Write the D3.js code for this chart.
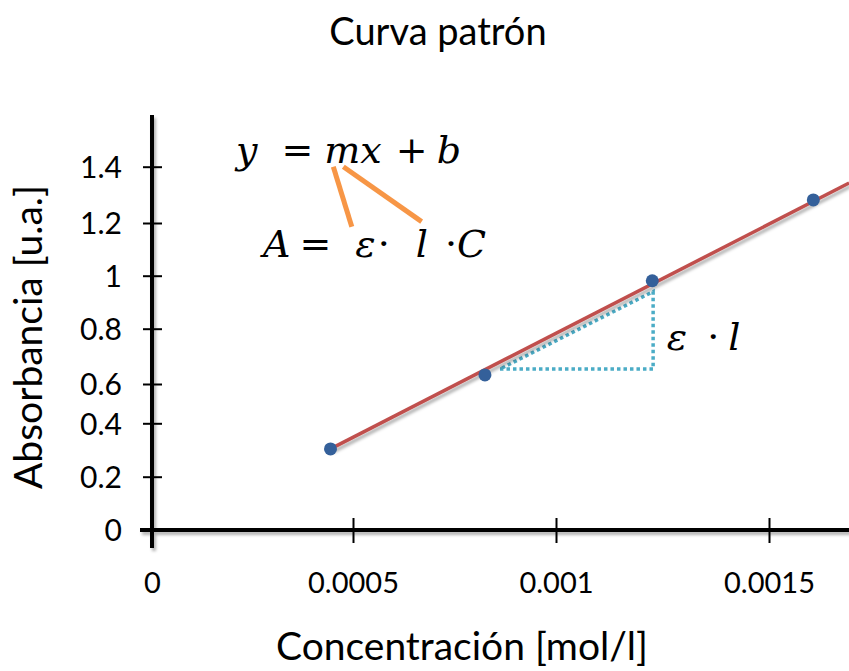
<!DOCTYPE html>
<html><head><meta charset="utf-8">
<script src="https://cdn.jsdelivr.net/npm/d3@7"></script>
<style>body{margin:0;background:#fff;overflow:hidden} svg{display:block}</style>
</head><body><svg id="c" width="849" height="671"></svg>
<script>
// ---- data ----
const concentration = [0.000444, 0.000825, 0.001226, 0.001604];
const absorbance    = [0.304, 0.633, 0.981, 1.282];
const xTicks = [0, 0.0005, 0.001, 0.0015];
const xTickLabels = ["0", "0.0005", "0.001", "0.0015"];
const yTicks = [0, 0.2, 0.4, 0.6, 0.8, 1, 1.2, 1.4];
const yTickLabels = ["0", "0.2", "0.4", "0.6", "0.8", "1", "1.2", "1.4"];
// fitted line (end points in data units)
const fitX = [0.000444, 0.001688];
const fitY = [0.304, 1.342];
// slope triangle corners
const triX = [0.000862, 0.001228, 0.001228];
const triY = [0.654, 0.654, 0.940];
// annotation anchors (data units)
const eq1Pos = [0.000209, 1.413];
const eq2Pos = [0.000276, 1.072];
const elPos  = [0.00126, 0.723];
const linkX1 = [0.000451, 0.000497], linkY1 = [1.400, 1.186];
const linkX2 = [0.000476, 0.000669], linkY2 = [1.400, 1.205];
const titleText = "Curva patrón";
const xTitle = "Concentración [mol/l]";
const yTitle = "Absorbancia [u.a.]";

const svg = d3.select("#c");
const sans = "Lato, 'Open Sans', sans-serif";
const serif = "'DejaVu Serif', serif";

const defs = svg.append("defs");
defs.append("filter").attr("id", "sh").attr("filterUnits", "userSpaceOnUse")
  .attr("x", 0).attr("y", 0).attr("width", 849).attr("height", 671)
  .append("feDropShadow").attr("dx", 2).attr("dy", 3).attr("stdDeviation", 1.5)
  .attr("flood-color", "#000").attr("flood-opacity", 0.3);

// scales (piecewise to follow the reference's tick placement)
const x = d3.scaleLinear().domain(xTicks).range([152, 353, 556, 769]);
const y = d3.scaleLinear().domain(yTicks).range([530, 476.7, 423.3, 384, 328.7, 275.7, 223, 166.7]);

// title
svg.append("text").attr("x", 438).attr("y", 45).attr("text-anchor", "middle")
  .style("font-family", sans).style("font-size", "38px").attr("fill", "#000").text(titleText);

// axis lines
const axisG = svg.append("g").attr("filter", "url(#sh)");
axisG.append("line").attr("x1", x(0)).attr("x2", x(0)).attr("y1", 115).attr("y2", 548)
  .attr("stroke", "#000").attr("stroke-width", 4);
axisG.append("line").attr("x1", 140).attr("x2", 849).attr("y1", y(0)).attr("y2", y(0))
  .attr("stroke", "#000").attr("stroke-width", 4);

// y axis ticks & labels
const ya = svg.append("g").attr("transform", `translate(${x(0)},0)`)
  .call(d3.axisLeft(y).tickValues(yTicks).tickFormat((d, i) => yTickLabels[i]).tickSize(9));
ya.select(".domain").remove();
ya.selectAll(".tick line").attr("x1", 10).attr("x2", -9).attr("stroke", "#000").attr("stroke-width", 2);
ya.selectAll(".tick text").attr("x", -30).attr("dy", "0.36em")
  .style("font-family", sans).style("font-size", "30px").attr("fill", "#000");

// x axis ticks & labels
const xa = svg.append("g").attr("transform", `translate(0,${y(0)})`)
  .call(d3.axisBottom(x).tickValues(xTicks).tickFormat((d, i) => xTickLabels[i]).tickSize(12));
xa.select(".domain").remove();
xa.selectAll(".tick line").attr("y1", -12).attr("y2", 13).attr("stroke", "#000").attr("stroke-width", 2)
  .attr("opacity", d => d === 0 ? 0 : 1);
xa.selectAll(".tick text").attr("y", 42).attr("dy", "0.71em")
  .style("font-family", sans).style("font-size", "29px").attr("fill", "#000");

// axis titles
svg.append("text").attr("x", 462).attr("y", 660).attr("text-anchor", "middle")
  .style("font-family", sans).style("font-size", "39px").attr("fill", "#000").text(xTitle);
svg.append("text").attr("transform", "translate(42,337) rotate(-90)").attr("text-anchor", "middle")
  .style("font-family", sans).style("font-size", "39px").attr("fill", "#000").text(yTitle);

// slope triangle
const tri = triX.map((v, i) => [x(v), y(triY[i])]);
svg.append("path").attr("d", d3.line()(tri) + "Z")
  .attr("fill", "none").attr("stroke", "#4bacc6").attr("stroke-width", 3.5)
  .attr("stroke-dasharray", "3.5,3");

// fitted line
svg.append("path").attr("d", d3.line()(fitX.map((v, i) => [x(v), y(fitY[i])])))
  .attr("fill", "none").attr("stroke", "#c0504d").attr("stroke-width", 3.5)
  .attr("filter", "url(#sh)");

// points
svg.append("g").selectAll("circle").data(concentration).join("circle")
  .attr("cx", d => x(d)).attr("cy", (d, i) => y(absorbance[i])).attr("r", 6.5)
  .attr("fill", "#34609a");

// annotations: [text, italic, dx]
function eq(pos, parts) {
  const t = svg.append("text").attr("x", x(pos[0])).attr("y", y(pos[1]))
    .style("font-family", serif).style("font-size", "38px").attr("fill", "#000");
  parts.forEach(p => t.append("tspan").attr("dx", p[2])
    .style("font-style", p[1] ? "italic" : "normal").text(p[0]));
  return t;
}
eq(eq1Pos, [["y", 1, 0], ["=", 0, 24], ["mx", 1, 11], ["+", 0, 14], ["b", 1, 9]]);
eq(eq2Pos, [["A", 1, 0], ["=", 0, 9], ["ε", 1, 24], ["·", 0, 2], ["l", 1, 26], ["·", 0, 17], ["C", 1, 0]]);
eq(elPos, [["ε", 1, 0], ["·", 0, 20], ["l", 1, 9]]);

[[linkX1, linkY1], [linkX2, linkY2]].forEach(([lx, ly]) => {
  svg.append("path").attr("d", d3.line()(lx.map((v, i) => [x(v), y(ly[i])])))
    .attr("stroke", "#f79646").attr("stroke-width", 5).attr("fill", "none");
});
</script></body></html>
